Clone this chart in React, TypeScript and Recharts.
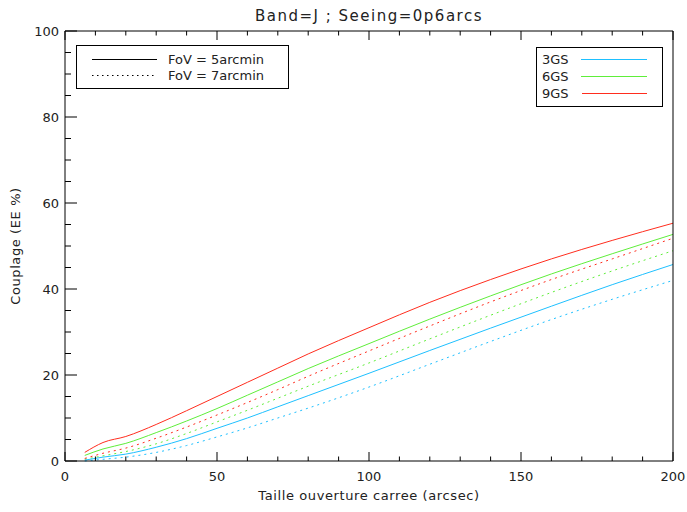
import { Line, LineChart, XAxis, YAxis } from "recharts";

const apertures = [6.5, 12.5, 20, 30, 40, 50, 60, 70, 80, 100, 120, 140, 160, 180, 200];

const gs3Fov5 = [0.2, 0.9, 1.6, 3.2, 5.2, 7.6, 10.0, 12.6, 15.2, 20.4, 25.7, 30.9, 36.0, 41.0, 45.7];
const gs6Fov5 = [1.3, 2.8, 4.1, 6.6, 9.3, 12.2, 15.3, 18.4, 21.5, 27.3, 33.0, 38.4, 43.5, 48.2, 52.7];
const gs9Fov5 = [2.0, 4.3, 5.7, 8.5, 11.7, 15.0, 18.3, 21.6, 24.9, 31.0, 36.9, 42.2, 47.0, 51.3, 55.3];
const gs3Fov7 = [0.0, 0.4, 0.9, 2.0, 3.6, 5.6, 7.7, 10.0, 12.3, 17.2, 22.5, 27.8, 32.9, 37.6, 42.0];
const gs6Fov7 = [0.4, 1.2, 2.2, 4.0, 6.4, 9.1, 11.8, 14.6, 17.4, 22.8, 28.4, 33.9, 39.2, 44.2, 48.9];
const gs9Fov7 = [0.6, 1.8, 3.0, 5.3, 7.9, 10.7, 13.6, 16.6, 19.7, 25.6, 31.4, 37.0, 42.2, 47.0, 51.8];

const xTicks = [0, 10, 20, 30, 40, 50, 60, 70, 80, 90, 100, 110, 120, 130, 140, 150, 160, 170, 180, 190, 200];
const yTicks = [0, 5, 10, 15, 20, 25, 30, 35, 40, 45, 50, 55, 60, 65, 70, 75, 80, 85, 90, 95, 100];

const BLUE = "#1ec0ff";
const GREEN = "#5fee3a";
const RED = "#ff2d1e";

const data = apertures.map((x, i) => ({
  x,
  gs3f5: gs3Fov5[i],
  gs6f5: gs6Fov5[i],
  gs9f5: gs9Fov5[i],
  gs3f7: gs3Fov7[i],
  gs6f7: gs6Fov7[i],
  gs9f7: gs9Fov7[i],
}));

const font = "'DejaVu Sans', sans-serif";

function BottomTick(props: any) {
  const { x, y, payload } = props;
  const major = payload.value % 50 === 0;
  return (
    <g>
      <line x1={x} x2={x} y1={y} y2={y - (major ? 9 : 4.5)} stroke="#000" />
      {major && (
        <text x={x} y={y + 20} textAnchor="middle" fontSize={13} fontFamily={font} fill="#222">
          {payload.value}
        </text>
      )}
    </g>
  );
}

function TopTick(props: any) {
  const { x, y, payload } = props;
  const major = payload.value % 50 === 0;
  return <line x1={x} x2={x} y1={y} y2={y + (major ? 9 : 4.5)} stroke="#000" />;
}

function LeftTick(props: any) {
  const { x, y, payload } = props;
  const major = payload.value % 20 === 0;
  return (
    <g>
      <line x1={x} x2={x + (major ? 12 : 6)} y1={y} y2={y} stroke="#000" />
      {major && (
        <text x={x - 6} y={y + 5} textAnchor="end" fontSize={13} fontFamily={font} fill="#222">
          {payload.value}
        </text>
      )}
    </g>
  );
}

function RightTick(props: any) {
  const { x, y, payload } = props;
  const major = payload.value % 20 === 0;
  return <line x1={x} x2={x - (major ? 12 : 6)} y1={y} y2={y} stroke="#000" />;
}

export default function App() {
  return (
    <div style={{ position: "absolute", left: 0, top: 0, width: 687, height: 512, background: "#fff" }}>
      <LineChart width={687} height={512} data={data} margin={{ top: 0, right: 0, bottom: 0, left: 0 }}>
        <XAxis
          xAxisId="b"
          dataKey="x"
          type="number"
          domain={[0, 200]}
          ticks={xTicks}
          interval={0}
          height={51}
          tickSize={0}
          tickMargin={0}
          tick={<BottomTick />}
          axisLine={{ stroke: "#000" }}
        />
        <XAxis
          xAxisId="t"
          orientation="top"
          dataKey="x"
          type="number"
          domain={[0, 200]}
          ticks={xTicks}
          interval={0}
          height={31}
          tickSize={0}
          tickMargin={0}
          tick={<TopTick />}
          axisLine={{ stroke: "#000" }}
        />
        <YAxis
          yAxisId="l"
          type="number"
          domain={[0, 100]}
          ticks={yTicks}
          interval={0}
          width={65}
          tickSize={0}
          tickMargin={0}
          tick={<LeftTick />}
          axisLine={{ stroke: "#000" }}
        />
        <YAxis
          yAxisId="r"
          orientation="right"
          type="number"
          domain={[0, 100]}
          ticks={yTicks}
          interval={0}
          width={14}
          tickSize={0}
          tickMargin={0}
          tick={<RightTick />}
          axisLine={{ stroke: "#000" }}
        />
        <Line xAxisId="b" yAxisId="l" type="monotone" dataKey="gs3f7" stroke={BLUE} strokeDasharray="2 4" dot={false} isAnimationActive={false} />
        <Line xAxisId="b" yAxisId="l" type="monotone" dataKey="gs6f7" stroke={GREEN} strokeDasharray="2 4" dot={false} isAnimationActive={false} />
        <Line xAxisId="b" yAxisId="l" type="monotone" dataKey="gs9f7" stroke={RED} strokeDasharray="2 4" dot={false} isAnimationActive={false} />
        <Line xAxisId="b" yAxisId="l" type="monotone" dataKey="gs3f5" stroke={BLUE} dot={false} isAnimationActive={false} />
        <Line xAxisId="b" yAxisId="l" type="monotone" dataKey="gs6f5" stroke={GREEN} dot={false} isAnimationActive={false} />
        <Line xAxisId="b" yAxisId="l" type="monotone" dataKey="gs9f5" stroke={RED} dot={false} isAnimationActive={false} />
      </LineChart>
      <svg
        width={687}
        height={512}
        style={{ position: "absolute", left: 0, top: 0, pointerEvents: "none" }}
        fontFamily={font}
      >
        <text x={369} y={21} textAnchor="middle" fontSize={15} letterSpacing={1.5} fill="#222">
          Band=J ; Seeing=0p6arcs
        </text>
        <text x={369} y={500} textAnchor="middle" fontSize={13} letterSpacing={0.6} fill="#222">
          Taille ouverture carree (arcsec)
        </text>
        <text
          x={0}
          y={0}
          transform="translate(20,246) rotate(-90)"
          textAnchor="middle"
          fontSize={13}
          letterSpacing={0.6}
          fill="#222"
        >
          Couplage (EE %)
        </text>

        <rect x={76.5} y={45.5} width={212} height={43} fill="#fff" stroke="#000" />
        <line x1={92} x2={157} y1={59.5} y2={59.5} stroke="#000" />
        <line x1={92} x2={157} y1={75.5} y2={75.5} stroke="#000" strokeDasharray="1.5 3.5" />
        <text x={168} y={64} fontSize={13} fill="#222">FoV = 5arcmin</text>
        <text x={168} y={80} fontSize={13} fill="#222">FoV = 7arcmin</text>

        <rect x={536.5} y={47.5} width={126} height={59} fill="#fff" stroke="#000" />
        <text x={542} y={64} fontSize={13} fill="#222">3GS</text>
        <text x={542} y={81} fontSize={13} fill="#222">6GS</text>
        <text x={542} y={98} fontSize={13} fill="#222">9GS</text>
        <line x1={581} x2={647} y1={59.5} y2={59.5} stroke={BLUE} />
        <line x1={581} x2={647} y1={76.5} y2={76.5} stroke={GREEN} />
        <line x1={582} x2={647} y1={93.5} y2={93.5} stroke={RED} />
      </svg>
    </div>
  );
}
